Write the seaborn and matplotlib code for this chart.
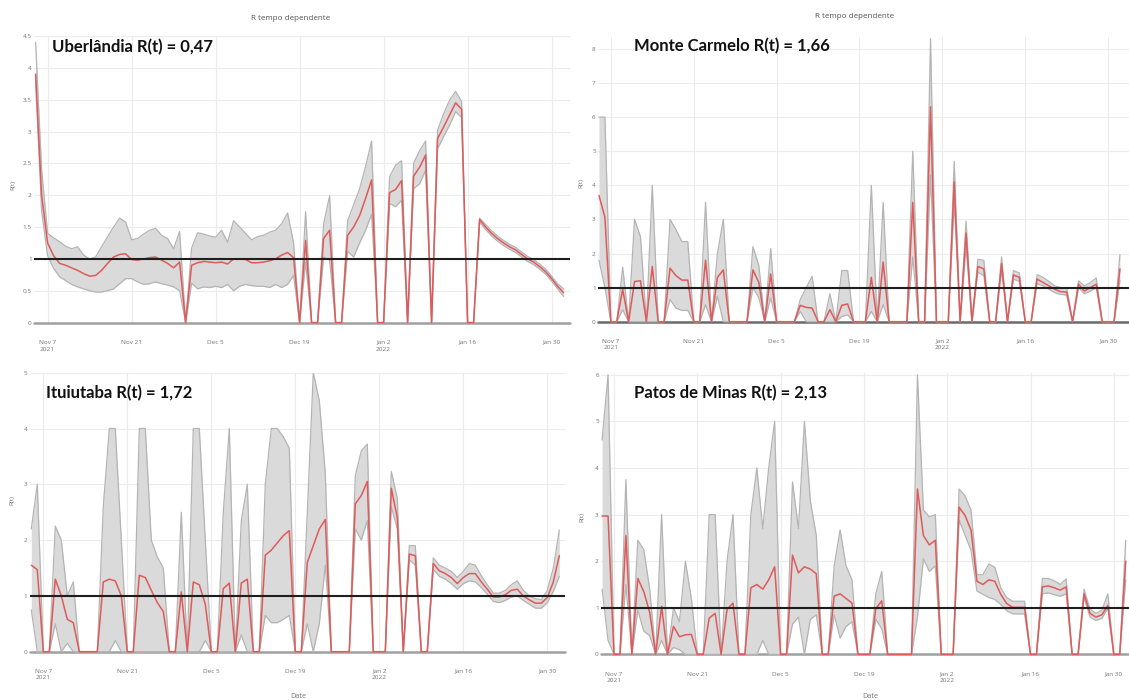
import numpy as np
import pandas as pd
import matplotlib
matplotlib.use("Agg")
import matplotlib.pyplot as plt
import seaborn as sns

# ---------------- data ----------------
start_date = "2021-11-05"
n_days = 89
dates = pd.date_range(start_date, periods=n_days, freq="D")

tick_dates = ["2021-11-07", "2021-11-21", "2021-12-05", "2021-12-19",
              "2022-01-02", "2022-01-16", "2022-01-30"]
tick_labels = ["Nov 7\n2021", "Nov 21", "Dec 5", "Dec 19", "Jan 2\n2022", "Jan 16", "Jan 30"]

# Uberlandia
udi_rt = [3.9, 2.0, 1.25, 1.05, 0.93, 0.9, 0.86, 0.82, 0.77, 0.73,
          0.74, 0.82, 0.93, 1.03, 1.07, 1.08, 0.99, 0.98, 1.0, 1.02,
          1.03, 0.98, 0.93, 0.86, 0.95, 0, 0.9, 0.94, 0.96, 0.95,
          0.94, 0.95, 0.92, 1.0, 1.0, 0.99, 0.94, 0.94, 0.95, 0.97,
          1.0, 1.06, 1.1, 1.02, 0, 1.29, 0, 0, 1.32, 1.45,
          0, 0, 1.37, 1.5, 1.68, 1.95, 2.24, 0, 0, 2.04,
          2.09, 2.23, 0, 2.3, 2.44, 2.63, 0, 2.89, 3.07, 3.26,
          3.45, 3.35, 0, 0, 1.62, 1.5, 1.4, 1.32, 1.25, 1.19,
          1.14, 1.07, 1.0, 0.95, 0.88, 0.8, 0.69, 0.57, 0.47]
udi_lo = [3.8, 1.75, 1.05, 0.85, 0.72, 0.66, 0.6, 0.56, 0.53, 0.5,
          0.48, 0.48, 0.5, 0.53, 0.61, 0.69, 0.69, 0.64, 0.6, 0.61,
          0.64, 0.61, 0.59, 0.56, 0.5, 0, 0.62, 0.53, 0.56, 0.55,
          0.57, 0.55, 0.6, 0.5, 0.57, 0.6, 0.58, 0.57, 0.57, 0.55,
          0.6, 0.55, 0.6, 0.74, 0, 0.95, 0, 0, 1.03, 0.98,
          0, 0, 1.12, 1.03, 1.25, 1.45, 1.7, 0, 0, 1.87,
          1.82, 1.92, 0, 2.1, 2.18, 2.39, 0, 2.73, 2.92, 3.1,
          3.31, 3.22, 0, 0, 1.58, 1.46, 1.36, 1.28, 1.21, 1.15,
          1.1, 1.03, 0.96, 0.91, 0.84, 0.76, 0.65, 0.53, 0.41]
udi_hi = [4.4, 2.4, 1.4, 1.33, 1.27, 1.2, 1.16, 1.19, 1.06, 1.0,
          1.03, 1.19, 1.35, 1.5, 1.64, 1.58, 1.3, 1.32, 1.39, 1.45,
          1.48, 1.37, 1.32, 1.16, 1.43, 0, 1.17, 1.41, 1.39, 1.36,
          1.34, 1.45, 1.26, 1.6, 1.5, 1.4, 1.3, 1.35, 1.37, 1.42,
          1.45, 1.55, 1.72, 1.25, 0, 1.74, 0, 0, 1.55, 1.99,
          0, 0, 1.6, 1.85, 2.1, 2.45, 2.85, 0, 0, 2.29,
          2.47, 2.54, 0, 2.5, 2.7, 2.85, 0, 3.02, 3.28, 3.49,
          3.63, 3.47, 0, 0, 1.64, 1.54, 1.44, 1.36, 1.29, 1.23,
          1.18, 1.11, 1.04, 0.99, 0.92, 0.84, 0.73, 0.61, 0.53]

# Monte Carmelo
mc_rt = [3.7, 3.06, 0, 0, 0.95, 0, 1.18, 1.2, 0, 1.62,
         0, 0, 1.57, 1.35, 1.22, 1.22, 0, 0, 1.8, 0,
         1.3, 1.52, 0, 0, 0, 0, 1.52, 1.15, 0, 1.4,
         0, 0, 0, 0, 0.48, 0.42, 0.4, 0, 0, 0.35,
         0, 0.48, 0.52, 0, 0, 0, 1.3, 0, 1.75, 0,
         0, 0, 0, 3.5, 0, 0, 6.3, 0, 0, 0,
         4.1, 0, 2.6, 0, 1.62, 1.55, 0, 0, 1.7, 0,
         1.37, 1.3, 0, 0, 1.25, 1.15, 1.05, 0.95, 0.88, 0.87,
         0, 1.1, 0.9, 1.0, 1.1, 0, 0, 0, 1.55]
mc_lo = [1.8, 1.0, 0, 0, 0.35, 0, 0, 0, 0, 0,
         0, 0, 0.65, 0.4, 0.33, 0.33, 0, 0, 0.5, 0,
         0.75, 0, 0, 0, 0, 0, 1.0, 0.7, 0, 0.7,
         0, 0, 0, 0, 0.3, 0, 0, 0, 0, 0,
         0, 0.15, 0.2, 0, 0, 0, 0.3, 0, 0.5, 0,
         0, 0, 0, 1.9, 0, 0, 4.3, 0, 0, 0,
         3.5, 0, 2.2, 0, 1.45, 1.35, 0, 0, 1.5, 0,
         1.25, 1.18, 0, 0, 1.12, 1.05, 0.95, 0.85, 0.8, 0.78,
         0, 1.0, 0.82, 0.9, 1.0, 0, 0, 0, 1.2]
mc_hi = [6.0, 6.0, 0, 0, 1.6, 0, 3.0, 2.5, 0, 4.0,
         0, 0, 3.0, 2.7, 2.35, 2.35, 0, 0, 3.5, 0,
         2.0, 3.0, 0, 0, 0, 0, 2.2, 1.65, 0, 2.15,
         0, 0, 0, 0, 0.65, 1.0, 1.33, 0, 0, 0.82,
         0, 1.5, 1.5, 0, 0, 0, 4.0, 0, 3.5, 0,
         0, 0, 0, 5.0, 0, 0, 8.3, 0, 0, 0,
         4.7, 0, 2.95, 0, 1.83, 1.8, 0, 0, 1.9, 0,
         1.5, 1.43, 0, 0, 1.38, 1.3, 1.18, 1.05, 1.0, 1.0,
         0, 1.2, 1.05, 1.15, 1.28, 0, 0, 0, 1.97]

# Ituiutaba
itu_rt = [1.55, 1.47, 0, 0, 1.3, 1.0, 0.58, 0.52, 0, 0,
          0, 0, 1.25, 1.3, 1.27, 1.0, 0, 0, 1.37, 1.33,
          1.1, 0.88, 0.72, 0, 0, 1.07, 0, 1.25, 1.2, 0.85,
          0, 0, 1.13, 1.23, 0, 1.23, 1.3, 0, 0, 1.73,
          1.82, 1.95, 2.08, 2.17, 0, 0, 1.6, 1.9, 2.2, 2.37,
          0, 0, 0, 0, 2.65, 2.8, 3.05, 0, 0, 0,
          2.93, 2.4, 0, 1.75, 1.72, 0, 0, 1.58, 1.45, 1.4,
          1.33, 1.22, 1.33, 1.4, 1.4, 1.25, 1.12, 0.98, 0.98, 1.02,
          1.1, 1.12, 1.0, 0.93, 0.87, 0.87, 0.97, 1.25, 1.72]
itu_lo = [0.75, 0, 0, 0, 0.5, 0, 0.15, 0, 0, 0,
          0, 0, 0, 0, 0.2, 0, 0, 0, 0, 0,
          0, 0, 0, 0, 0, 0, 0, 0, 0, 0.2,
          0, 0, 0, 0, 0, 0.3, 0, 0, 0, 0.65,
          0.52, 0.52, 0.58, 0.65, 0, 0, 0.5, 0, 0.5, 1.55,
          0, 0, 0, 0, 2.2, 2.0, 2.35, 0, 0, 0,
          2.6, 2.2, 0, 1.65, 1.55, 0, 0, 1.48, 1.35, 1.3,
          1.22, 1.12, 1.22, 1.27, 1.25, 1.15, 1.03, 0.9, 0.88, 0.92,
          0.98, 1.0, 0.92, 0.85, 0.78, 0.78, 0.88, 1.08, 1.35]
itu_hi = [2.2, 3.0, 0, 0, 2.25, 2.0, 1.0, 1.25, 0, 0,
          0, 0, 2.6, 4.0, 4.0, 2.0, 0, 0, 4.0, 4.0,
          2.0, 1.7, 1.5, 0, 0, 2.5, 0, 4.0, 4.0, 2.0,
          0, 0, 2.5, 4.0, 0, 2.35, 3.0, 0, 0, 3.0,
          4.0, 4.0, 3.85, 3.65, 0, 0, 2.5, 5.0, 4.5, 3.2,
          0, 0, 0, 0, 3.15, 3.6, 3.72, 0, 0, 0,
          3.23, 2.75, 0, 1.9, 1.9, 0, 0, 1.68, 1.55, 1.5,
          1.44, 1.33, 1.44, 1.58, 1.55, 1.36, 1.2, 1.05, 1.05, 1.1,
          1.2, 1.27, 1.1, 1.0, 0.95, 0.93, 1.1, 1.5, 2.18]

# Patos de Minas
pm_rt = [2.97, 2.97, 0, 0, 2.55, 0, 1.63, 1.35, 0.9, 0,
         1.03, 0, 0.6, 0.38, 0.42, 0.43, 0, 0, 0.78, 0.88,
         0, 0.97, 1.1, 0, 0, 1.43, 1.5, 1.4, 1.6, 1.88,
         0, 0, 2.13, 1.75, 1.88, 1.83, 1.73, 0, 0, 1.25,
         1.3, 1.2, 1.1, 0, 0, 0, 0.98, 1.15, 0, 0,
         0, 0, 0, 3.55, 2.55, 2.35, 2.45, 0, 0, 0,
         3.16, 2.98, 2.67, 1.57, 1.5, 1.6, 1.57, 1.29, 1.09, 1.01,
         1.01, 1.01, 0, 0, 1.45, 1.47, 1.43, 1.38, 1.45, 0,
         0, 1.3, 0.88, 0.8, 0.85, 1.05, 0, 0, 2.0]
pm_lo = [1.4, 0.3, 0, 0, 1.5, 0, 0.95, 0.5, 0.4, 0,
         0.3, 0, 0.15, 0.1, 0, 0, 0, 0, 0, 0,
         0, 0, 0, 0, 0, 0, 0, 0.3, 0, 0,
         0, 0, 0.65, 0.8, 0, 0.75, 0.85, 0, 0, 0.85,
         0.35, 0.6, 0.7, 0, 0, 0, 0.75, 0.55, 0, 0,
         0, 0, 0, 0.8, 2.05, 1.78, 1.9, 0, 0, 0,
         2.88, 2.56, 2.23, 1.36, 1.29, 1.22, 1.18, 1.07, 0.94, 0.87,
         0.87, 0.87, 0, 0, 1.3, 1.32, 1.28, 1.25, 1.3, 0,
         0, 1.22, 0.8, 0.73, 0.77, 1.0, 0, 0, 1.6]
pm_hi = [4.6, 6.0, 0, 0, 3.75, 0, 2.45, 2.25, 1.4, 0,
         3.0, 0, 1.0, 0.7, 2.0, 1.2, 0, 0, 3.0, 3.0,
         0, 2.0, 3.0, 0, 0, 3.0, 4.0, 2.7, 4.0, 5.0,
         0, 0, 3.7, 2.7, 5.0, 3.3, 2.55, 0, 0, 1.9,
         2.67, 1.9, 1.6, 0, 0, 0, 1.3, 1.78, 0, 0,
         0, 0, 0, 6.0, 3.1, 2.95, 3.0, 0, 0, 0,
         3.55, 3.4, 3.1, 1.71, 1.71, 1.94, 1.87, 1.43, 1.22, 1.14,
         1.14, 1.14, 0, 0, 1.63, 1.63, 1.58, 1.5, 1.62, 0,
         0, 1.4, 0.97, 0.88, 0.95, 1.3, 0, 0, 2.45]

panel_titles = ["Uberlândia R(t) = 0,47", "Monte Carmelo R(t) = 1,66",
                "Ituiutaba R(t) = 1,72", "Patos de Minas R(t) = 2,13"]

# ---------------- style ----------------
sns.set_theme(style="white")
plt.rcParams['font.family'] = ['Open Sans', 'DejaVu Sans']

W, H = 1129, 700
fig = plt.figure(figsize=(W / 100, H / 100), dpi=100)
fig.patch.set_facecolor("white")

RED = "#e05a5a"
BAND = "#dadada"
EDGE = "#b4b4b4"
TICKC = "#747474"
TICKFS = 4.6


def add_panel(x0, dpx, xa, xb, y0, s, ya, yb):
    left = x0 + xa * dpx
    right = x0 + xb * dpx
    top = y0 - yb * s
    bottom = y0 - ya * s
    ax = fig.add_axes([left / W, 1 - bottom / H, (right - left) / W, (bottom - top) / H])
    ax.set_xlim(dates[0] + pd.Timedelta(days=xa), dates[0] + pd.Timedelta(days=xb))
    ax.set_ylim(ya, yb)
    return ax


def draw(ax, rt, lo, hi, yticks, ylabels, zero_color):
    ax.set_facecolor("white")
    for sp in ax.spines.values():
        sp.set_visible(False)
    ax.set_xticks(pd.to_datetime(tick_dates))
    ax.set_xticklabels(tick_labels, fontsize=TICKFS, color=TICKC, linespacing=1.45)
    ax.set_yticks(yticks)
    ax.set_yticklabels(ylabels, fontsize=TICKFS, color=TICKC)
    ax.tick_params(axis="x", length=0, pad=11)
    ax.tick_params(axis="y", length=0, pad=1.5)
    ax.grid(True, color="#ececec", lw=0.8, zorder=0)
    ax.set_axisbelow(True)
    ax.axhline(0, color=zero_color, lw=1.8, zorder=1, clip_on=False)
    ax.fill_between(dates, lo, hi, color=BAND, lw=0, zorder=2)
    sns.lineplot(x=dates, y=hi, ax=ax, color=EDGE, lw=0.9, zorder=3, legend=False)
    sns.lineplot(x=dates, y=lo, ax=ax, color=EDGE, lw=0.9, zorder=3, legend=False)
    sns.lineplot(x=dates, y=rt, ax=ax, color=RED, lw=1.1, zorder=4, legend=False)
    ax.axhline(1, color="#1e1e1e", lw=1.5, zorder=5)
    ax.set_xlabel("")
    ax.set_ylabel("")


def fmt(v):
    return ("%g" % v)

# panel positions in pixels (x of first date, px/day, y of zero, px/unit)
ax1 = add_panel(35.6, 6.0, -0.3, 89.0, 322.6, 63.7, -0.03, 4.5)
yt1 = [0, 0.5, 1, 1.5, 2, 2.5, 3, 3.5, 4, 4.5]
draw(ax1, udi_rt, udi_lo, udi_hi, yt1, [fmt(v) for v in yt1], "#a0a0a0")

ax2 = add_panel(599.0, 5.92, -0.2, 89.5, 321.7, 34.1, -0.05, 8.35)
yt2 = [0, 1, 2, 3, 4, 5, 6, 7, 8]
draw(ax2, mc_rt, mc_lo, mc_hi, yt2, [fmt(v) for v in yt2], "#6a6a6a")

ax3 = add_panel(31.3, 6.0, -0.3, 89.0, 651.7, 55.8, -0.03, 5.0)
yt3 = [0, 1, 2, 3, 4, 5]
draw(ax3, itu_rt, itu_lo, itu_hi, yt3, [fmt(v) for v in yt3], "#a0a0a0")

ax4 = add_panel(602.1, 5.95, -0.2, 88.6, 654.4, 46.6, -0.04, 6.03)
yt4 = [0, 1, 2, 3, 4, 5, 6]
draw(ax4, pm_rt, pm_lo, pm_hi, yt4, [fmt(v) for v in yt4], "#a0a0a0")

# texts
def ftext(x, y, s, **kw):
    fig.text(x / W, 1 - y / H, s, **kw)

ftext(291, 19, "R tempo dependente", fontsize=5.8, color="#555555", ha="center", va="center")
ftext(855, 16, "R tempo dependente", fontsize=5.8, color="#555555", ha="center", va="center")
for (x, y) in [(13, 185), (581, 183), (12, 500), (582, 517)]:
    ftext(x, y, "R(t)", fontsize=TICKFS, color=TICKC, ha="center", va="center", rotation=90)
ftext(298, 696, "Date", fontsize=5.2, color=TICKC, ha="center", va="center")
ftext(870, 697, "Date", fontsize=5.2, color=TICKC, ha="center", va="center")

for (x, y), s in zip([(52, 47.5), (634, 46.5), (46, 393), (634, 393)], panel_titles):
    ftext(x, y, s, fontsize=12.0, fontweight="bold", family=["Lato", "DejaVu Sans"],
          color="#111111", ha="left", va="center")

fig.savefig("out.png", dpi=100, facecolor="white")
